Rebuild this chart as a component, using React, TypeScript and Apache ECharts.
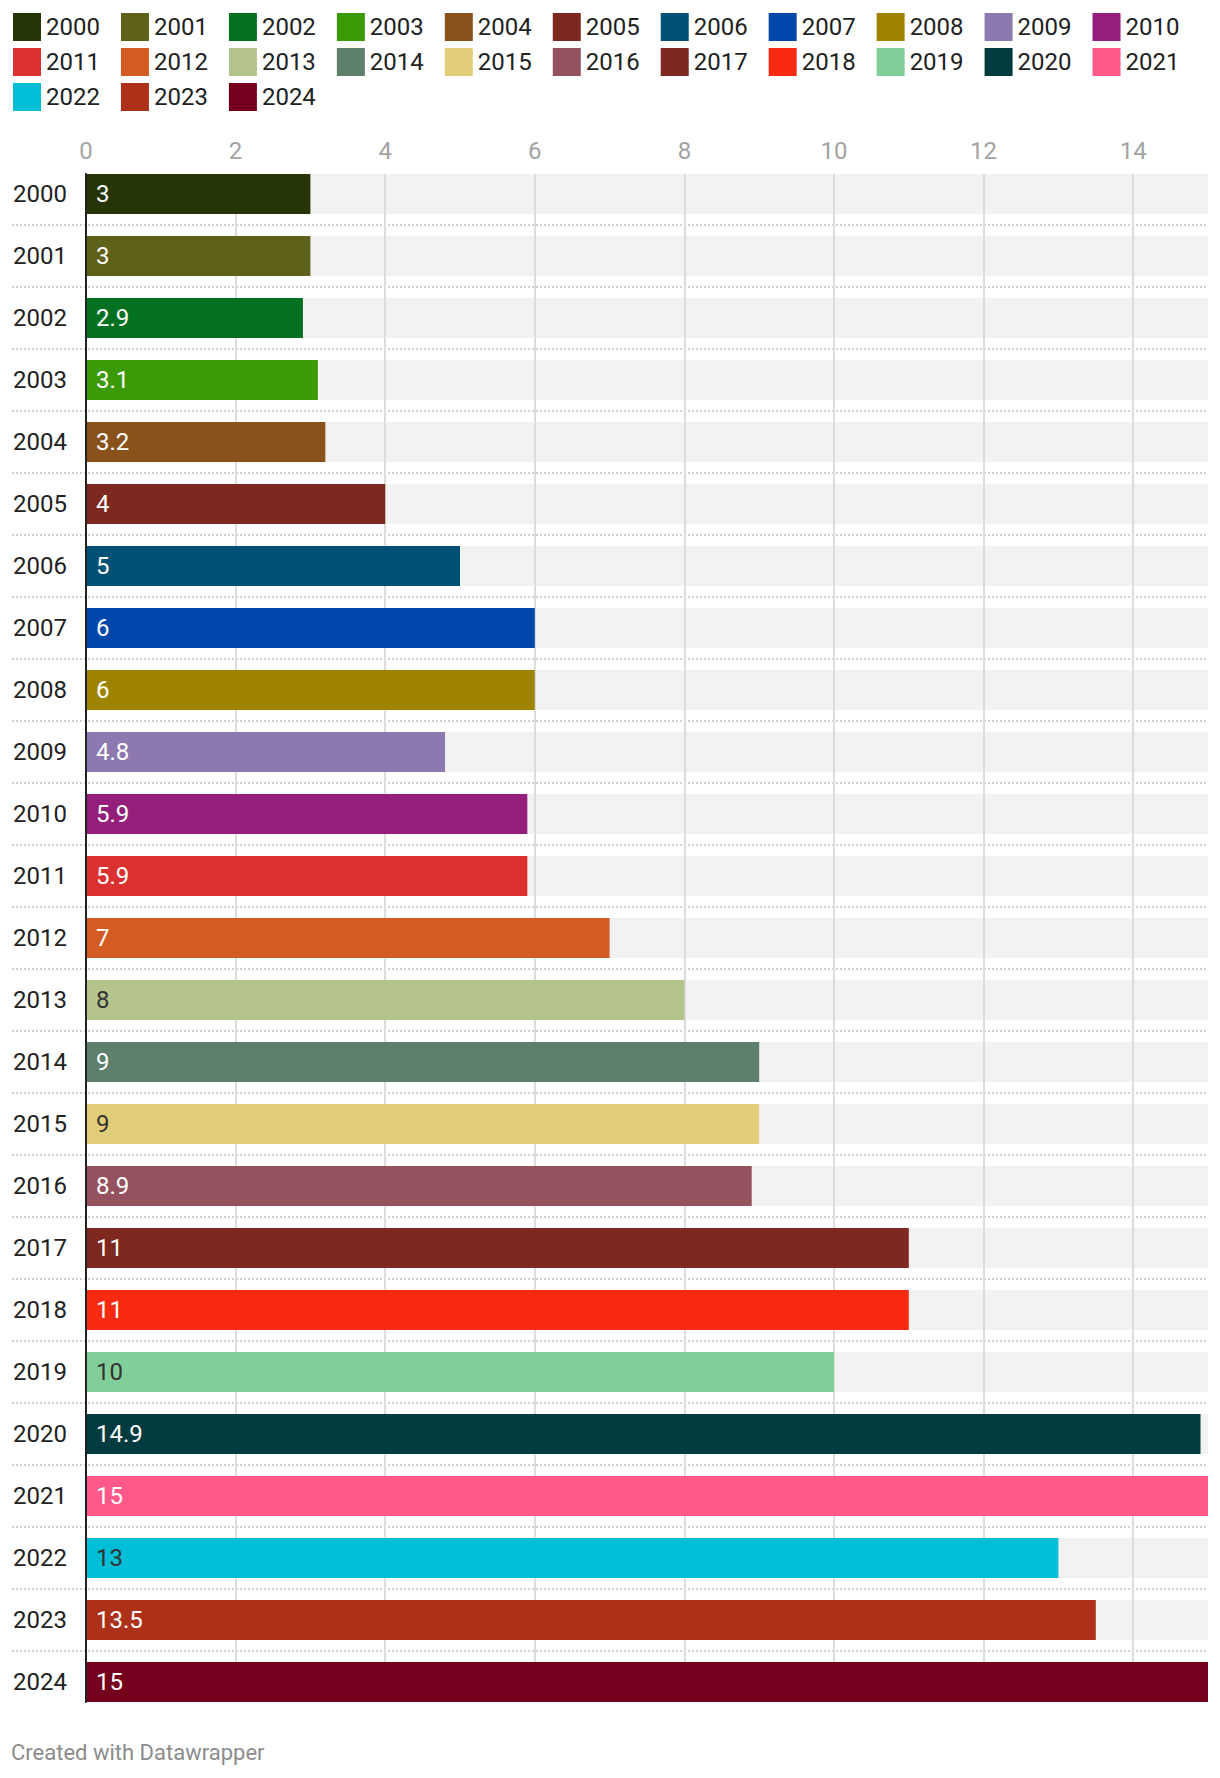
import React, { useEffect, useRef } from "react";
import * as echarts from "echarts";

const years = [
  "2000", "2001", "2002", "2003", "2004", "2005", "2006", "2007", "2008", "2009",
  "2010", "2011", "2012", "2013", "2014", "2015", "2016", "2017", "2018", "2019",
  "2020", "2021", "2022", "2023", "2024",
];
const values = [3, 3, 2.9, 3.1, 3.2, 4, 5, 6, 6, 4.8, 5.9, 5.9, 7, 8, 9, 9, 8.9, 11, 11, 10, 14.9, 15, 13, 13.5, 15];
const colors = [
  "#253506", "#5e611a", "#03711f", "#3b9a05", "#8a521b", "#7d2920", "#005175", "#0047ab",
  "#9e8301", "#8c79b0", "#931f7a", "#dc3131", "#d35c22", "#b5c48c", "#5e7f6b", "#e2ce78",
  "#93525d", "#7e2920", "#f82a12", "#82ce99", "#013a3f", "#ff5889", "#00bed6", "#ad3119",
  "#75001e",
];
const darkLabelYears = ["2013", "2015", "2019", "2022"];
const axisMax = 15;
const tickInterval = 2;
const footer = "Created with Datawrapper";

const FONT = "Roboto, 'Noto Sans', sans-serif";

export default function App() {
  const ref = useRef<HTMLDivElement>(null);

  useEffect(() => {
    document.body.style.margin = "0";
    if (!ref.current) return;
    const chart = echarts.init(ref.current, null, { renderer: "svg" });

    const legendRows = [years.slice(0, 11), years.slice(11, 22), years.slice(22)];
    const legends = legendRows.map((row, r) => ({
      data: row,
      left: 8,
      top: 8 + r * 35,
      orient: "horizontal",
      icon: "rect",
      itemWidth: 28,
      itemHeight: 28,
      itemGap: 21,
      selectedMode: false,
      textStyle: { color: "#222", fontSize: 24, fontFamily: FONT },
    }));

    const yearSeries = years.map((y, i) => ({
      name: y,
      type: "bar",
      xAxisIndex: 0,
      yAxisIndex: 0,
      stack: "all",
      barWidth: 40,
      barGap: "-100%",
      z: 3,
      itemStyle: { color: colors[i] },
      label: {
        show: true,
        position: "insideLeft",
        distance: 10,
        color: darkLabelYears.includes(y) ? "#333" : "#fff",
        fontSize: 24,
        fontFamily: FONT,
        formatter: (p: any) => String(p.value),
      },
      data: years.map((_, j) => (j === i ? values[i] : "-")),
    }));

    const option: any = {
      animation: false,
      textStyle: { fontFamily: FONT },
      legend: legends,
      grid: [
        { left: 86, right: 12, top: 163, height: 1550 },
        { left: 86, right: 12, top: 174, height: 1528 },
        { left: 12, right: 12, top: 163, height: 1550 },
      ],
      xAxis: [
        {
          gridIndex: 0, type: "value", min: 0, max: axisMax,
          axisLine: { show: false }, axisTick: { show: false },
          axisLabel: { show: false }, splitLine: { show: false },
        },
        {
          gridIndex: 1, type: "value", position: "top", min: 0, max: axisMax, interval: tickInterval,
          z: 2,
          axisLine: { show: false }, axisTick: { show: false },
          axisLabel: { color: "#a3a3a3", fontSize: 24, fontFamily: FONT, margin: 11, showMaxLabel: false },
          splitLine: { show: true, showMaxLine: false, lineStyle: { color: "#dcdcdc", width: 2 } },
        },
        {
          gridIndex: 2, type: "value", min: 0, max: 1,
          axisLine: { show: false }, axisTick: { show: false },
          axisLabel: { show: false }, splitLine: { show: false },
        },
      ],
      yAxis: [
        {
          gridIndex: 0, type: "category", data: years, inverse: true,
          axisLine: { show: false }, axisTick: { show: false },
          axisLabel: { color: "#222", fontSize: 24, fontFamily: FONT, align: "left", margin: 73 },
          splitLine: { show: false },
        },
        {
          gridIndex: 1, type: "value", min: 0, max: 1, z: 4,
          axisLine: { show: true, lineStyle: { color: "#222", width: 2 } },
          axisTick: { show: false }, axisLabel: { show: false }, splitLine: { show: false },
        },
        {
          gridIndex: 2, type: "category", data: years, inverse: true, z: 2,
          axisLine: { show: false }, axisTick: { show: false }, axisLabel: { show: false },
          splitLine: {
            show: true, showMinLine: false, showMaxLine: false,
            lineStyle: { color: "#cfcfcf", width: 2, type: [2, 2] },
          },
        },
      ],
      series: [
        {
          name: "background",
          type: "bar",
          xAxisIndex: 0,
          yAxisIndex: 0,
          barWidth: 40,
          barGap: "-100%",
          z: 1,
          silent: true,
          itemStyle: { color: "#f2f2f2" },
          data: years.map(() => axisMax),
        },
        ...yearSeries,
      ],
      graphic: [
        {
          type: "text",
          left: 11,
          top: 1741,
          style: { text: footer, fill: "#8c8c8c", fontSize: 22, fontFamily: FONT },
        },
      ],
    };

    chart.setOption(option);
    return () => chart.dispose();
  }, []);

  return <div ref={ref} style={{ width: 1220, height: 1778 }} />;
}
